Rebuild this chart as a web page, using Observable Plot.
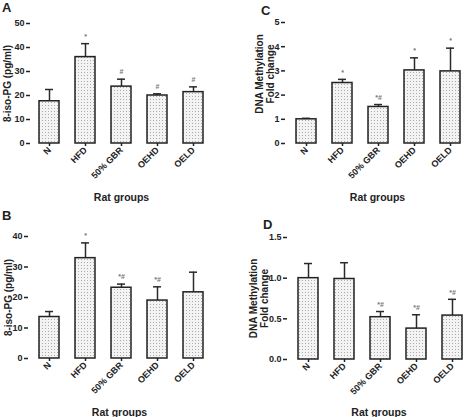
<!DOCTYPE html>
<html><head><meta charset="utf-8">
<script src="https://cdn.jsdelivr.net/npm/d3@7"></script>
<script src="https://cdn.jsdelivr.net/npm/@observablehq/plot@0.6"></script>
<style>
body{margin:0;background:#fff;}
#wrap{position:relative;width:472px;height:417px;font-family:"Liberation Sans",Arial,sans-serif;color:#222;}
.panel{position:absolute;}
.letter{position:absolute;font-weight:bold;font-size:13px;line-height:1;}
</style></head><body>
<svg width="0" height="0" style="position:absolute">
  <defs>
    <pattern id="dots" width="3" height="3" patternUnits="userSpaceOnUse">
      <rect width="3" height="3" fill="#f3f3f3"></rect>
      <rect width="1" height="1" fill="#ababab"></rect>
    </pattern>
  </defs>
</svg>
<div id="wrap">
  <div class="panel" id="pA" style="left:0;top:0"></div>
  <div class="panel" id="pB" style="left:0;top:208px"></div>
  <div class="panel" id="pC" style="left:236px;top:0"></div>
  <div class="panel" id="pD" style="left:236px;top:208px"></div>
  <div class="letter" style="left:2px;top:1px">A</div>
  <div class="letter" style="left:2px;top:209px">B</div>
  <div class="letter" style="left:261px;top:4px">C</div>
  <div class="letter" style="left:263px;top:218px">D</div>
</div>
<script>
// ---- data ----
const groups = ["N", "HFD", "50% GBR", "OEHD", "OELD"];

// Panel A: 8-iso-PG (pg/ml)
const isoA = [17.6, 36.0, 23.7, 20.0, 21.4];
const isoAErr = [4.9, 5.6, 3.1, 0.7, 2.2];
const isoASig = ["", "*", "#", "#", "#"];
const isoATicks = [0, 10, 20, 30, 40, 50];

// Panel B: 8-iso-PG (pg/ml)
const isoB = [13.6, 32.9, 23.2, 19.0, 21.7];
const isoBErr = [1.8, 5.0, 1.2, 4.5, 6.6];
const isoBSig = ["", "*", "*#", "*#", ""];
const isoBTicks = [0, 10, 20, 30, 40];

// Panel C: DNA methylation fold change
const methC = [1.0, 2.5, 1.51, 3.02, 2.98];
const methCErr = [0.04, 0.15, 0.1, 0.52, 0.96];
const methCSig = ["", "*", "*#", "*", "*"];
const methCTicks = [0, 1, 2, 3, 4, 5];

// Panel D: DNA methylation fold change
const methD = [1.0, 0.99, 0.52, 0.38, 0.54];
const methDErr = [0.18, 0.2, 0.07, 0.17, 0.2];
const methDSig = ["", "", "*#", "*#", "*#"];
const methDTicks = [0, 0.5, 1.0, 1.5];

const isoLabel = "8-iso-PG (pg/ml)";
const methLabel = "DNA Methylation\nFold change";
const xLabel = "Rat groups";

function panel(el, values, errs, sig, ticks, fmt, yLabel, L) {
  const data = groups.map((g, i) => ({group: g, value: values[i], upper: values[i] + errs[i], sig: sig[i]}));
  const chart = Plot.plot({
    width: L.w, height: L.h,
    marginLeft: L.mL, marginRight: L.mR, marginTop: L.mT, marginBottom: L.mB,
    style: {fontFamily: '"Liberation Sans", Arial, sans-serif', color: "#222", background: "transparent", overflow: "visible"},
    x: {domain: groups, paddingInner: 0.45, paddingOuter: L.po, align: L.align},
    y: {domain: [ticks[0], ticks[ticks.length - 1]]},
    marks: [
      Plot.ruleX(data, {x: "group", y1: "value", y2: "upper", stroke: "#2a2a2a", strokeWidth: 1.5}),
      Plot.tickY(data, {x: "group", y: "upper", stroke: "#2a2a2a", strokeWidth: 1.5, insetLeft: 6, insetRight: 6}),
      Plot.barY(data, {x: "group", y: "value", fill: "url(#dots)", stroke: "#222", strokeWidth: 1.5}),
      Plot.text(data, {x: "group", y: "upper", text: "sig", dy: -7, fontSize: 7, fill: "#777", fontWeight: "bold"}),
      Plot.axisY({ticks, tickFormat: fmt, tickSize: 4, tickPadding: 2, line: true, label: null, fontSize: 9, fontWeight: "bold", stroke: "#222", strokeWidth: 1.5}),
      Plot.axisX({tickSize: 3, tickPadding: 2, tickRotate: -45, line: true, label: null, fontSize: 9, fontWeight: "bold", stroke: "#222", strokeWidth: 1.5}),
      Plot.text([xLabel], {frameAnchor: "bottom", dy: L.xlDy, lineAnchor: "bottom", textAnchor: "middle", fontSize: 10.5, fontWeight: "bold", fill: "#222"}),
      Plot.text([yLabel], {frameAnchor: "left", rotate: -90, dx: L.ylDx, dy: L.ylDy, textAnchor: "middle", lineAnchor: "middle", lineHeight: 1.1, fontSize: 10, fontWeight: "bold", fill: "#222"})
    ]
  });
  document.getElementById(el).appendChild(chart);
}

panel("pA", isoA, isoAErr, isoASig, isoATicks, d3.format("d"), isoLabel,
  {w: 236, h: 208, mL: 30, mR: 24, mT: 23, mB: 65, po: 0.245, align: 0.5, xlDy: 57, ylDx: -23, ylDy: 0});
panel("pB", isoB, isoBErr, isoBSig, isoBTicks, d3.format("d"), isoLabel,
  {w: 236, h: 209, mL: 28, mR: 26, mT: 28, mB: 59, po: 0.2525, align: 0.6, xlDy: 57, ylDx: -20, ylDy: 0});
panel("pC", methC, methCErr, methCSig, methCTicks, d3.format("d"), methLabel,
  {w: 236, h: 208, mL: 49, mR: 3, mT: 22, mB: 65, po: 0.245, align: 0.556, xlDy: 57, ylDx: -21, ylDy: -9});
panel("pD", methD, methDErr, methDSig, methDTicks, d3.format(".1f"), methLabel,
  {w: 236, h: 209, mL: 51, mR: 2, mT: 29, mB: 58, po: 0.232, align: 0.59, xlDy: 56, ylDx: -29, ylDy: 0});
</script>
</body></html>
